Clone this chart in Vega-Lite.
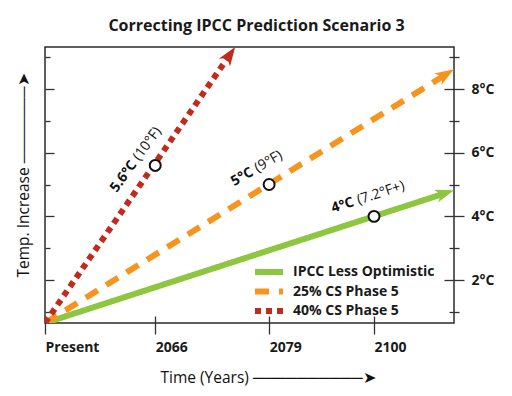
{
  "$schema": "https://vega.github.io/schema/vega-lite/v6.json",
  "width": 409,
  "height": 276,
  "autosize": {"type": "none"},
  "padding": {"left": 45, "top": 47, "right": 58, "bottom": 73},
  "background": "white",
  "title": {
    "text": "Correcting IPCC Prediction Scenario 3",
    "font": "Open Sans",
    "fontSize": 16,
    "fontWeight": "bold",
    "color": "#1a1a1a",
    "anchor": "middle",
    "dx": 7,
    "offset": 13
  },
  "config": {
    "view": {"stroke": "#2b2b2b", "strokeWidth": 1.5},
    "font": "Open Sans"
  },
  "datasets": {
    "lines": [
      {"series": "IPCC Less Optimistic", "t": 0, "temp": 0.65},
      {"series": "IPCC Less Optimistic", "t": 97.68, "temp": 4.72},
      {"series": "25% CS Phase 5", "t": 0, "temp": 0.65},
      {"series": "25% CS Phase 5", "t": 97.92, "temp": 8.45},
      {"series": "40% CS Phase 5", "t": 0, "temp": 0.65},
      {"series": "40% CS Phase 5", "t": 45.1, "temp": 9.06}
    ],
    "tips": [
      {"series": "IPCC Less Optimistic", "t": 100, "temp": 4.82},
      {"series": "25% CS Phase 5", "t": 100, "temp": 8.62},
      {"series": "40% CS Phase 5", "t": 46.5, "temp": 9.32}
    ],
    "marks": [
      {"series": "40% CS Phase 5", "t": 26.95, "temp": 5.6, "bold": "5.6°C", "rest": "(10°F)"},
      {"series": "25% CS Phase 5", "t": 54.8, "temp": 5.0, "bold": "5°C", "rest": "(9°F)"},
      {"series": "IPCC Less Optimistic", "t": 80.45, "temp": 4.0, "bold": "4°C", "rest": "(7.2°F+)"}
    ]
  },
  "resolve": {"axis": {"y": "independent"}},
  "layer": [
    {
      "data": {"name": "lines"},
      "mark": {"type": "line", "strokeWidth": 6, "strokeCap": "butt", "clip": true},
      "encoding": {
        "x": {
          "field": "t", "type": "quantitative",
          "scale": {"domain": [0, 100], "nice": false, "zero": false},
          "axis": {
            "values": [0, 26.95, 54.8, 80.45],
            "labelExpr": "datum.value == 0 ? 'Present' : datum.value < 30 ? '2066' : datum.value < 60 ? '2079' : '2100'",
            "offset": -7, "tickSize": 18, "tickColor": "#333", "tickWidth": 1.3,
            "labelPadding": 6, "labelAlign": "left", "labelDx": -2,
            "labelFont": "Open Sans", "labelFontSize": 14, "labelFontWeight": "bold", "labelColor": "#1a1a1a",
            "domain": false, "grid": false,
            "title": "Time (Years) ──────────➤",
            "titleFont": "Open Sans", "titleFontSize": 15.5, "titleFontWeight": "normal", "titleColor": "#111",
            "titleAnchor": "start", "titleAlign": "left", "titleBaseline": "alphabetic",
            "titleX": 115, "titleY": 66
          }
        },
        "y": {
          "field": "temp", "type": "quantitative",
          "scale": {"domain": [0.65, 9.32], "nice": false, "zero": false},
          "axis": {
            "orient": "left",
            "values": [1, 2, 3, 4, 5, 6, 7, 8, 9],
            "labels": false, "domain": false, "grid": false,
            "tickColor": "#333", "tickWidth": 1.3,
            "tickSize": {"condition": {"test": "datum.value % 2 === 0", "value": -9}, "value": -5},
            "title": "Temp. Increase ───────➤",
            "titleFont": "Open Sans", "titleFontSize": 15.5, "titleFontWeight": "normal", "titleColor": "#111",
            "titleAngle": -90, "titleAlign": "left", "titleBaseline": "alphabetic",
            "titleX": -17, "titleY": 230
          }
        },
        "color": {
          "field": "series", "type": "nominal",
          "scale": {"domain": ["IPCC Less Optimistic", "25% CS Phase 5", "40% CS Phase 5"], "range": ["#8dc63f", "#f7941d", "#c22a1b"]},
          "legend": {
            "orient": "none", "legendX": 217, "legendY": 218, "title": null,
            "symbolType": "M-4,0H4", "symbolSize": 49, "symbolStrokeWidth": 6,
            "labelFont": "Open Sans", "labelFontSize": 14, "labelFontWeight": "bold", "labelColor": "#1a1a1a",
            "labelOffset": 17, "rowPadding": -4.5, "padding": 0
          }
        },
        "strokeDash": {
          "field": "series", "type": "nominal",
          "scale": {"domain": ["IPCC Less Optimistic", "25% CS Phase 5", "40% CS Phase 5"], "range": [[1, 0], [14, 10], [6, 5]]},
          "legend": {
            "orient": "none", "legendX": 217, "legendY": 218, "title": null,
            "symbolType": "M-4,0H4", "symbolSize": 49, "symbolStrokeWidth": 6,
            "labelFont": "Open Sans", "labelFontSize": 14, "labelFontWeight": "bold", "labelColor": "#1a1a1a",
            "labelOffset": 17, "rowPadding": -4.5, "padding": 0
          }
        }
      }
    },
    {
      "data": {"name": "tips"},
      "transform": [{"filter": "datum.series == 'IPCC Less Optimistic'"}],
      "mark": {"type": "point", "shape": "M0,0L0.68,1.9L0,1.35L-0.68,1.9Z", "size": 400, "filled": true, "opacity": 1, "angle": 72},
      "encoding": {
        "x": {"field": "t", "type": "quantitative"},
        "y": {
          "field": "temp", "type": "quantitative",
          "axis": {
            "orient": "right", "values": [1, 3, 5, 7, 9], "offset": -5, "tickSize": 10,
            "labels": false, "domain": false, "grid": false, "title": null,
            "tickColor": "#333", "tickWidth": 1.3
          }
        },
        "color": {"field": "series", "type": "nominal", "legend": null}
      }
    },
    {
      "data": {"name": "tips"},
      "transform": [{"filter": "datum.series == '25% CS Phase 5'"}],
      "mark": {"type": "point", "shape": "M0,0L0.68,1.9L0,1.35L-0.68,1.9Z", "size": 400, "filled": true, "opacity": 1, "angle": 58.2},
      "encoding": {
        "x": {"field": "t", "type": "quantitative"},
        "y": {"field": "temp", "type": "quantitative", "axis": null},
        "color": {"field": "series", "type": "nominal", "legend": null}
      }
    },
    {
      "data": {"name": "tips"},
      "transform": [{"filter": "datum.series == '40% CS Phase 5'"}],
      "mark": {"type": "point", "shape": "M0,0L0.68,1.9L0,1.35L-0.68,1.9Z", "size": 400, "filled": true, "opacity": 1, "angle": 34.6},
      "encoding": {
        "x": {"field": "t", "type": "quantitative"},
        "y": {"field": "temp", "type": "quantitative", "axis": null},
        "color": {"field": "series", "type": "nominal", "legend": null}
      }
    },
    {
      "data": {"name": "marks"},
      "mark": {"type": "point", "shape": "circle", "size": 120, "filled": true, "fill": "white", "stroke": "#111", "strokeWidth": 2, "opacity": 1},
      "encoding": {
        "x": {"field": "t", "type": "quantitative"},
        "y": {
          "field": "temp", "type": "quantitative",
          "axis": {
            "orient": "right", "values": [2, 4, 6, 8], "offset": -10, "tickSize": 20,
            "labelPadding": 7, "labelExpr": "datum.value + '°C'",
            "labelFont": "Open Sans", "labelFontSize": 14, "labelFontWeight": "bold", "labelColor": "#1a1a1a",
            "domain": false, "grid": false, "title": null,
            "tickColor": "#333", "tickWidth": 1.3
          }
        }
      }
    },
    {
      "data": {"name": "marks"},
      "transform": [{"filter": "datum.series == '40% CS Phase 5'"}],
      "mark": {"type": "text", "font": "Open Sans", "fontSize": 14, "fontWeight": "bold", "color": "#111", "angle": -54, "align": "right", "baseline": "alphabetic", "dx": -10, "dy": -15},
      "encoding": {
        "x": {"field": "t", "type": "quantitative"},
        "y": {"field": "temp", "type": "quantitative", "axis": null},
        "text": {"field": "bold"}
      }
    },
    {
      "data": {"name": "marks"},
      "transform": [{"filter": "datum.series == '40% CS Phase 5'"}],
      "mark": {"type": "text", "font": "Open Sans", "fontSize": 14, "fontWeight": 500, "color": "#111", "angle": -54, "align": "left", "baseline": "alphabetic", "dx": -6, "dy": -15},
      "encoding": {
        "x": {"field": "t", "type": "quantitative"},
        "y": {"field": "temp", "type": "quantitative", "axis": null},
        "text": {"field": "rest"}
      }
    },
    {
      "data": {"name": "marks"},
      "transform": [{"filter": "datum.series == '25% CS Phase 5'"}],
      "mark": {"type": "text", "font": "Open Sans", "fontSize": 14, "fontWeight": "bold", "color": "#111", "angle": -30, "align": "right", "baseline": "alphabetic", "dx": -8, "dy": -16},
      "encoding": {
        "x": {"field": "t", "type": "quantitative"},
        "y": {"field": "temp", "type": "quantitative", "axis": null},
        "text": {"field": "bold"}
      }
    },
    {
      "data": {"name": "marks"},
      "transform": [{"filter": "datum.series == '25% CS Phase 5'"}],
      "mark": {"type": "text", "font": "Open Sans", "fontSize": 14, "fontWeight": 500, "color": "#111", "angle": -30, "align": "left", "baseline": "alphabetic", "dx": -4, "dy": -16},
      "encoding": {
        "x": {"field": "t", "type": "quantitative"},
        "y": {"field": "temp", "type": "quantitative", "axis": null},
        "text": {"field": "rest"}
      }
    },
    {
      "data": {"name": "marks"},
      "transform": [{"filter": "datum.series == 'IPCC Less Optimistic'"}],
      "mark": {"type": "text", "font": "Open Sans", "fontSize": 14, "fontWeight": "bold", "color": "#111", "angle": -18, "align": "right", "baseline": "alphabetic", "dx": -15, "dy": -16},
      "encoding": {
        "x": {"field": "t", "type": "quantitative"},
        "y": {"field": "temp", "type": "quantitative", "axis": null},
        "text": {"field": "bold"}
      }
    },
    {
      "data": {"name": "marks"},
      "transform": [{"filter": "datum.series == 'IPCC Less Optimistic'"}],
      "mark": {"type": "text", "font": "Open Sans", "fontSize": 14, "fontWeight": 500, "color": "#111", "angle": -18, "align": "left", "baseline": "alphabetic", "dx": -11, "dy": -16},
      "encoding": {
        "x": {"field": "t", "type": "quantitative"},
        "y": {"field": "temp", "type": "quantitative", "axis": null},
        "text": {"field": "rest"}
      }
    }
  ]
}
